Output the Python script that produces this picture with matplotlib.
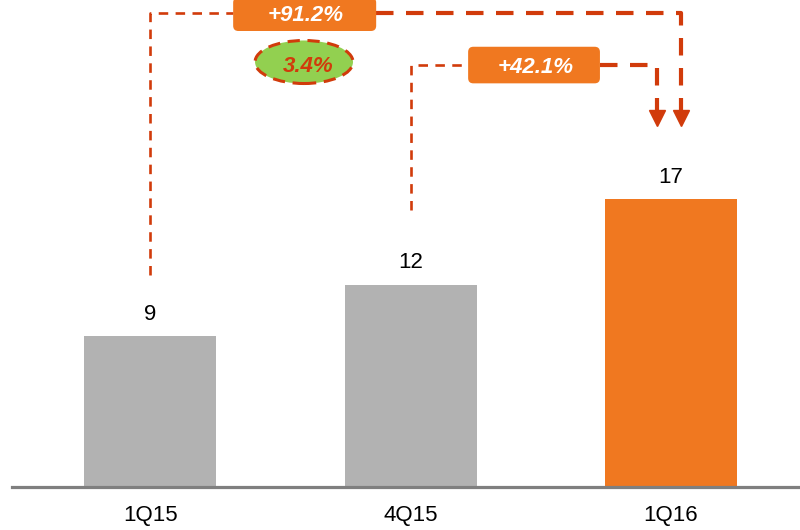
import matplotlib
matplotlib.use("Agg")
import matplotlib.pyplot as plt
from matplotlib.patches import FancyBboxPatch, Ellipse

# Data
quarters = ['1Q15', '4Q15', '1Q16']
revenue = [8.9, 11.95, 17.0]
value_labels = ['9', '12', '17']
bar_colors = ['#B2B2B2', '#B2B2B2', '#F07820']
growth_labels = ['+91.2%', '+42.1%']   # 1Q16 vs 1Q15, 1Q16 vs 4Q15
share_label = '3.4%'

line_red = '#D13B0B'
box_orange = '#F07820'
green = '#92D050'

plt.rcParams['font.family'] = ['Liberation Sans', 'DejaVu Sans']

fig = plt.figure(figsize=(8, 5.3), dpi=100)
ax = fig.add_axes([0.015, 0.0811, 0.985, 0.9189])

x = list(range(len(quarters)))
ax.bar(x, revenue, width=0.507, color=bar_colors, zorder=2)
ax.set_xlim(-0.530, 2.495)
ax.set_ylim(0, 28.75)

# axis styling
for side in ['top', 'right', 'left']:
    ax.spines[side].set_visible(False)
ax.spines['bottom'].set_color('#7F7F7F')
ax.spines['bottom'].set_linewidth(2.3)
ax.spines['bottom'].set_zorder(3)
ax.set_yticks([])
ax.set_xticks(x)
ax.set_xticklabels(quarters, fontsize=16)
ax.tick_params(axis='x', length=0, pad=13)

# value labels above the bars
for i, v in enumerate(revenue):
    ax.text(i, v + 0.95, value_labels[i], ha='center', va='baseline', fontsize=16)

# growth brackets
thin = dict(color=line_red, lw=1.9, dashes=(3.6, 2.8), clip_on=False, zorder=4)
thick = dict(color=line_red, lw=3.0, dashes=(4.2, 3.0), clip_on=False, zorder=4)
tip_y = revenue[2] + 4.3
head_y = tip_y + 0.48

brackets = [
    # start x, start y, top y, end x, box (x0, x1, y0, y1), text pos
    (0, revenue[0] + 3.6, 28.0, 2.04, (0.319, 0.868, 26.92, 28.9), (0.599, 27.86)),
    (1, revenue[1] + 4.4, 24.9, 1.946, (1.221, 1.727, 23.83, 25.99), (1.482, 24.76)),
]
for (sx, sy, ty, ex, box, tpos), lab in zip(brackets, growth_labels):
    bx0, bx1, by0, by1 = box
    ax.plot([sx, sx, bx0], [sy, ty, ty], **thin)
    ax.plot([bx1, ex, ex], [ty, ty, head_y + 0.45], **thick)
    ax.plot([ex], [head_y], marker='v', markersize=11.5, color=line_red,
            clip_on=False, zorder=4)
    patch = FancyBboxPatch((bx0, by0), bx1 - bx0, by1 - by0,
                           boxstyle='round,pad=0,rounding_size=0.02',
                           mutation_aspect=15.38, fc=box_orange, ec='none',
                           clip_on=False, zorder=5)
    ax.add_patch(patch)
    ax.text(tpos[0], tpos[1], lab, ha='center', va='center', color='white',
            fontsize=16, fontweight='bold', fontstyle='italic', zorder=6)

# green ellipse with share
ell = Ellipse((0.591, 25.09), 0.376, 2.54, fc=green, ec=line_red, lw=2.2,
              ls=(0, (4, 2.5)), clip_on=False, zorder=5)
ax.add_patch(ell)
ax.text(0.607, 24.85, share_label, ha='center', va='center', color=line_red,
        fontsize=16, fontweight='bold', fontstyle='italic', zorder=6)

fig.savefig('out.png', dpi=100)
